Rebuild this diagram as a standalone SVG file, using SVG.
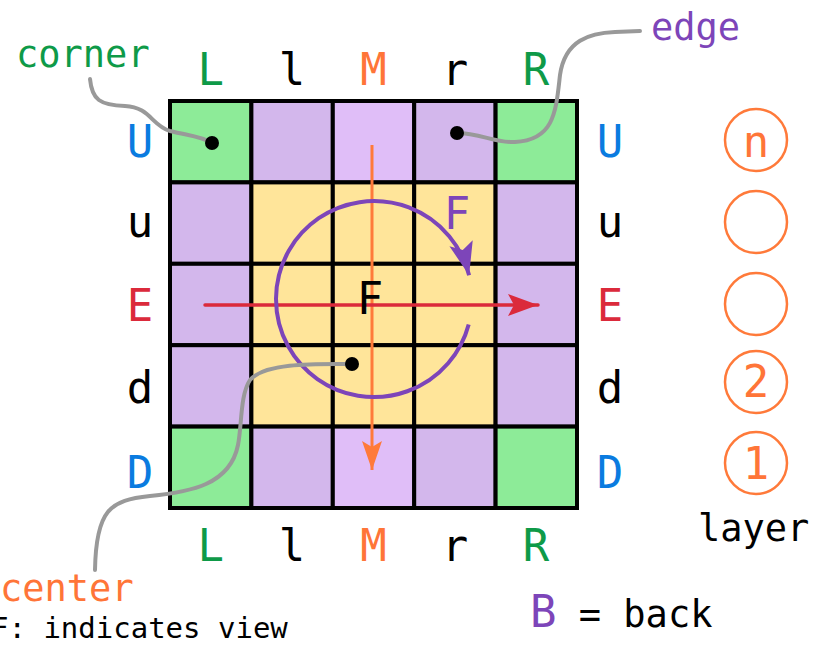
<svg xmlns="http://www.w3.org/2000/svg" width="815" height="648" viewBox="0 0 815 648">
  <defs>
    <style>
      .lbl { font-family: "DejaVu Sans Mono", "Liberation Mono", monospace; font-size: 44px; text-anchor: middle; }
      .txt { font-family: "DejaVu Sans Mono", "Liberation Mono", monospace; font-size: 37px; }
      .small { font-size: 29px; }
      .big { font-size: 44px; }
      .green { fill: #0E9A48; }
      .blue { fill: #0A7BE0; }
      .red { fill: #DB2A3B; }
      .orange { fill: #FF7538; }
      .purple { fill: #7D45B9; }
      .black { fill: #000; }
      .cell { stroke: #000; stroke-width: 4; }
      .corner { fill: #8DEB98; }
      .edge { fill: #D3B7EC; }
      .medge { fill: #E0BEF8; }
      .center { fill: #FFE59A; }
      .lead { fill: none; stroke: #999; stroke-width: 4; stroke-linecap: round; }
      .dot { fill: #000; }
      .ring { fill: none; stroke: #FF7A3A; stroke-width: 2.5; }
    </style>
    <marker id="headOrange" markerWidth="10" markerHeight="10" refX="9" refY="5" orient="auto" markerUnits="userSpaceOnUse" viewBox="0 0 10 10" style="overflow:visible">
      <path d="M-20,-5 L9,5 L-20,15 L-14,5 Z" fill="#FF7A3A"/>
    </marker>
    <marker id="headRed" markerWidth="10" markerHeight="10" refX="9" refY="5" orient="auto" markerUnits="userSpaceOnUse" viewBox="0 0 10 10" style="overflow:visible">
      <path d="M-21,-6 L9,5 L-21,16 L-15,5 Z" fill="#DB2A3B"/>
    </marker>
    <marker id="headPurple" markerWidth="10" markerHeight="10" refX="9" refY="5" orient="auto" markerUnits="userSpaceOnUse" viewBox="0 0 10 10" style="overflow:visible">
      <path d="M-24,-7 L9,5 L-24,17 L-17,5 Z" fill="#7D45B9"/>
    </marker>
  </defs>

  <rect x="0" y="0" width="815" height="648" fill="#fff"/>

  <!-- 5x5 face grid -->
  <g id="grid">
    <g id="row-U">
      <rect class="cell corner" x="170" y="101" width="81.4" height="81.4"/>
      <rect class="cell edge" x="251.4" y="101" width="81.4" height="81.4"/>
      <rect class="cell medge" x="332.8" y="101" width="81.4" height="81.4"/>
      <rect class="cell edge" x="414.2" y="101" width="81.4" height="81.4"/>
      <rect class="cell corner" x="495.6" y="101" width="81.4" height="81.4"/>
    </g>
    <g id="row-u">
      <rect class="cell edge" x="170" y="182.4" width="81.4" height="81.4"/>
      <rect class="cell center" x="251.4" y="182.4" width="81.4" height="81.4"/>
      <rect class="cell center" x="332.8" y="182.4" width="81.4" height="81.4"/>
      <rect class="cell center" x="414.2" y="182.4" width="81.4" height="81.4"/>
      <rect class="cell edge" x="495.6" y="182.4" width="81.4" height="81.4"/>
    </g>
    <g id="row-E">
      <rect class="cell edge" x="170" y="263.8" width="81.4" height="81.4"/>
      <rect class="cell center" x="251.4" y="263.8" width="81.4" height="81.4"/>
      <rect class="cell center" x="332.8" y="263.8" width="81.4" height="81.4"/>
      <rect class="cell center" x="414.2" y="263.8" width="81.4" height="81.4"/>
      <rect class="cell edge" x="495.6" y="263.8" width="81.4" height="81.4"/>
    </g>
    <g id="row-d">
      <rect class="cell edge" x="170" y="345.2" width="81.4" height="81.4"/>
      <rect class="cell center" x="251.4" y="345.2" width="81.4" height="81.4"/>
      <rect class="cell center" x="332.8" y="345.2" width="81.4" height="81.4"/>
      <rect class="cell center" x="414.2" y="345.2" width="81.4" height="81.4"/>
      <rect class="cell edge" x="495.6" y="345.2" width="81.4" height="81.4"/>
    </g>
    <g id="row-D">
      <rect class="cell corner" x="170" y="426.6" width="81.4" height="81.4"/>
      <rect class="cell edge" x="251.4" y="426.6" width="81.4" height="81.4"/>
      <rect class="cell medge" x="332.8" y="426.6" width="81.4" height="81.4"/>
      <rect class="cell edge" x="414.2" y="426.6" width="81.4" height="81.4"/>
      <rect class="cell corner" x="495.6" y="426.6" width="81.4" height="81.4"/>
    </g>
  </g>

  <!-- slice arrows and rotation -->
  <g id="connectors">
    <line x1="372" y1="145" x2="372" y2="470" stroke="#FF7A3A" stroke-width="3" marker-end="url(#headOrange)"/>
    <line x1="205" y1="305" x2="538" y2="305" stroke="#DB2A3B" stroke-width="3.5" stroke-linecap="round" marker-end="url(#headRed)"/>
    <path d="M468.7,324.4 A98,98 0 1 1 469.1,275.3" fill="none" stroke="#7D45B9" stroke-width="4" marker-end="url(#headPurple)"/>
    <path class="lead" d="M90,79 C92,100 100,105 125,106 C150,107 152,126 170,131 C190,136 200,136 212,143"/>
    <path class="lead" d="M457,133 C480,133 495,143 515,142 C555,140 556,110 560,75 C565,40 590,33 615,32 L640,31"/>
    <path class="lead" d="M352,364 C320,364 265,362 250,380 C240,395 242,425 238,445 C230,485 190,492 150,496 C110,500 96,510 95,570"/>
  </g>

  <g id="dots">
    <circle class="dot" cx="212" cy="143" r="7"/>
    <circle class="dot" cx="457" cy="133" r="7"/>
    <circle class="dot" cx="352" cy="364" r="7"/>
  </g>

  <g id="face-labels">
    <text class="lbl purple" x="457" y="229">F</text>
    <text class="lbl black" x="370" y="314">F</text>
  </g>

  <!-- column labels -->
  <g id="cols-top">
    <text class="lbl green" x="210.7" y="85">L</text>
    <text class="lbl black" x="292" y="85">l</text>
    <text class="lbl orange" x="373.5" y="85">M</text>
    <text class="lbl black" x="455" y="85">r</text>
    <text class="lbl green" x="536" y="85">R</text>
  </g>
  <g id="cols-bottom">
    <text class="lbl green" x="210.7" y="561">L</text>
    <text class="lbl black" x="292" y="561">l</text>
    <text class="lbl orange" x="373.5" y="561">M</text>
    <text class="lbl black" x="455" y="561">r</text>
    <text class="lbl green" x="536" y="561">R</text>
  </g>

  <!-- row labels -->
  <g id="rows-left">
    <text class="lbl blue" x="140" y="157">U</text>
    <text class="lbl black" x="140" y="237">u</text>
    <text class="lbl red" x="140" y="321">E</text>
    <text class="lbl black" x="140" y="403">d</text>
    <text class="lbl blue" x="140" y="488">D</text>
  </g>
  <g id="rows-right">
    <text class="lbl blue" x="610" y="157">U</text>
    <text class="lbl black" x="610" y="237">u</text>
    <text class="lbl red" x="610" y="321">E</text>
    <text class="lbl black" x="610" y="403">d</text>
    <text class="lbl blue" x="610" y="488">D</text>
  </g>

  <!-- layer numbering -->
  <g id="layers">
    <circle class="ring" cx="756" cy="140" r="31"/>
    <text class="lbl orange" x="756" y="157">n</text>
    <circle class="ring" cx="756" cy="222" r="31"/>
    <circle class="ring" cx="756" cy="304" r="31"/>
    <circle class="ring" cx="756" cy="382" r="31"/>
    <text class="lbl orange" x="756" y="397">2</text>
    <circle class="ring" cx="756" cy="463" r="31"/>
    <text class="lbl orange" x="756" y="479">1</text>
    <text class="txt black" x="698" y="541">layer</text>
  </g>

  <g id="notes">
    <text class="txt green" x="16" y="67">corner</text>
    <text class="txt purple" x="651" y="40">edge</text>
    <text class="txt orange" x="0" y="601">center</text>
    <text class="txt" x="530" y="627"><tspan class="purple big">B</tspan><tspan class="black"> = back</tspan></text>
    <text class="txt small black" x="-9" y="638">F: indicates view</text>
  </g>
</svg>
